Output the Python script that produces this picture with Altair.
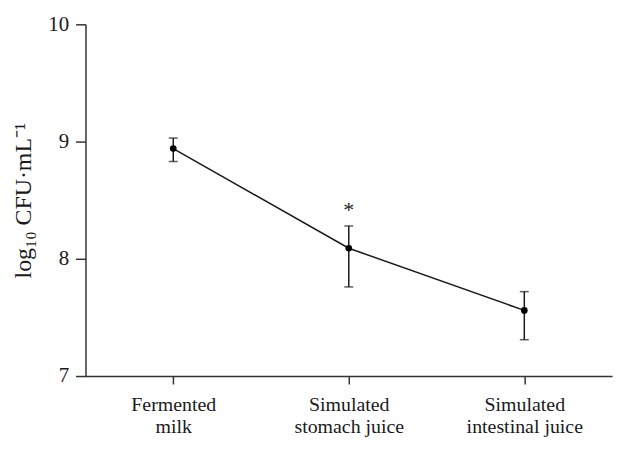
import altair as alt
import pandas as pd

categories = ["Fermented|milk", "Simulated|stomach juice", "Simulated|intestinal juice"]
means = [8.94, 8.09, 7.56]
upper = [9.03, 8.28, 7.72]
lower = [8.83, 7.76, 7.31]
sig = ["", "*", ""]

df = pd.DataFrame({"cat": categories, "mean": means, "upper": upper, "lower": lower, "sig": sig})

FONT = "Liberation Serif"
COL = "#1a1a1a"

x = alt.X("cat:N", sort=categories, scale=alt.Scale(type="point", padding=0.5),
          axis=alt.Axis(title=None, labelExpr="split(datum.label, '|')", labelAngle=0,
                        labelFont=FONT, labelFontSize=20, labelColor=COL, labelPadding=11,
                        labelLineHeight=22, tickSize=8, tickColor="#333", domainColor="#333",
                        domainWidth=1.5, tickWidth=1.5, grid=False))
yscale = alt.Scale(domain=[7, 10], nice=False, zero=False)
yaxis = alt.Axis(title="log₁₀ CFU·mL⁻¹", values=[7, 8, 9, 10], format="d", titleFont=FONT, titleFontSize=24,
                 titleFontWeight="normal", titleColor=COL, titlePadding=12,
                 labelFont=FONT, labelFontSize=21, labelColor=COL, labelPadding=7,
                 tickSize=10, tickColor="#333", domainColor="#333", domainWidth=1.5, tickWidth=1.5,
                 grid=False)

base = alt.Chart(df)
line = base.mark_line(color=COL, strokeWidth=1.5).encode(x=x, y=alt.Y("mean:Q", scale=yscale, axis=yaxis))
rule = base.mark_rule(color=COL, strokeWidth=1.5).encode(x=x, y=alt.Y("lower:Q", scale=yscale), y2="upper:Q")
capu = base.mark_tick(color=COL, orient="horizontal", size=9, thickness=1.5).encode(x=x, y=alt.Y("upper:Q", scale=yscale))
capl = base.mark_tick(color=COL, orient="horizontal", size=9, thickness=1.5).encode(x=x, y=alt.Y("lower:Q", scale=yscale))
pts = base.mark_point(filled=True, color="#000", size=45, opacity=1).encode(x=x, y=alt.Y("mean:Q", scale=yscale))
txt = base.mark_text(font=FONT, fontSize=22, color=COL, dy=-16, baseline="middle").encode(
    x=x, y=alt.Y("upper:Q", scale=yscale), text="sig:N")

chart = alt.layer(line, rule, capu, capl, pts, txt).properties(
    width=530, height=354,
    autosize=alt.AutoSizeParams(type="none"),
    padding={"left": 78, "top": 15, "right": 10, "bottom": 72},
).configure(background="white", font=FONT).configure_view(strokeWidth=0, stroke="transparent")

chart.save("out.html", embed_options={"renderer": "svg", "actions": False})
